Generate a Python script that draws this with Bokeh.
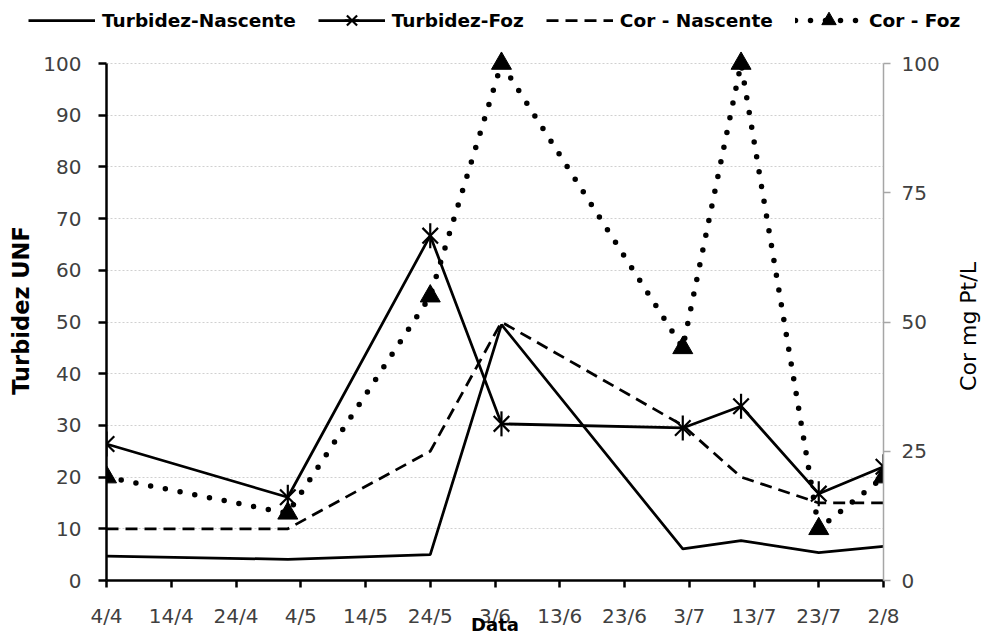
import math
import pandas as pd
from bokeh.plotting import figure
from bokeh.layouts import column, row
from bokeh.models import Range1d, LinearAxis, FixedTicker, Legend, LegendItem, Label
from bokeh.embed import file_html
from bokeh.resources import INLINE

# ---- data ----
dates = ["2011-04-04", "2011-05-02", "2011-05-24", "2011-06-04",
         "2011-07-02", "2011-07-11", "2011-07-23", "2011-08-02"]
turbidez_nascente = [4.7, 4.1, 5.0, 49.5, 6.1, 7.7, 5.4, 6.6]
turbidez_foz = [26.4, 16.1, 66.7, 30.3, 29.5, 33.7, 16.8, 22.0]
cor_nascente = [10, 10, 25, 50, 30, 20, 15, 15]
cor_foz = [20, 13, 55, 100, 45, 100, 10, 20]

series_names = ["Turbidez-Nascente", "Turbidez-Foz", "Cor - Nascente", "Cor - Foz"]
tick_dates = ["2011-04-04", "2011-04-14", "2011-04-24", "2011-05-04", "2011-05-14",
              "2011-05-24", "2011-06-03", "2011-06-13", "2011-06-23", "2011-07-03",
              "2011-07-13", "2011-07-23", "2011-08-02"]
tick_labels = ["4/4", "14/4", "24/4", "4/5", "14/5", "24/5", "3/6", "13/6",
               "23/6", "3/7", "13/7", "23/7", "2/8"]
left_ticks = [0, 10, 20, 30, 40, 50, 60, 70, 80, 90, 100]
right_ticks = [0, 25, 50, 75, 100]

base = pd.Timestamp(dates[0])
x = [(pd.Timestamp(d) - base).days for d in dates]
xt = [(pd.Timestamp(d) - base).days for d in tick_dates]

FONT = "DejaVu Sans"
TICK_COLOR = "#404040"
Y_TOP = 104.45  # head-room above 100 so the markers at 100 are not clipped

# styles per series
S_SOLID = dict(line_color="black", line_width=2.75)
S_DASH = dict(line_color="black", line_width=2.75, line_dash="12 7")
S_DOT = dict(line_color="black", line_width=5.5, line_dash="0 15", line_cap="round")
S_X = dict(marker="x", size=22, line_color="black", line_width=2.2)
S_BAR = dict(marker="dash", size=25, angle=math.pi / 2, line_color="black", line_width=2.2)
S_TRI = dict(marker="triangle", size=20, fill_color="black", line_color="black")

# ================= main chart =================
p = figure(width=954, height=597, output_backend="svg", toolbar_location=None,
           x_range=Range1d(xt[0], xt[-1]), y_range=Range1d(0, Y_TOP),
           min_border_left=106, min_border_right=71, min_border_top=0,
           min_border_bottom=57)
p.outline_line_color = None
p.background_fill_color = "white"
p.border_fill_color = "white"
p.extra_y_ranges = {"cor": Range1d(0, Y_TOP)}

# x axis
xa = p.xaxis[0]
xa.ticker = FixedTicker(ticks=xt)
xa.major_label_overrides = {v: l for v, l in zip(xt, tick_labels)}
xa.axis_line_width = 2.5
xa.axis_line_color = "black"
xa.major_tick_line_width = 2.5
xa.major_tick_line_color = "black"
xa.major_tick_in = 0
xa.major_tick_out = 7
xa.minor_tick_line_color = None
xa.major_label_text_font = FONT
xa.major_label_text_font_size = "20px"
xa.major_label_text_color = TICK_COLOR
xa.major_label_standoff = 16
xa.axis_label = "Data"
xa.axis_label_text_font = FONT
xa.axis_label_text_font_style = "bold"
xa.axis_label_text_font_size = "18px"
xa.axis_label_text_color = "black"
xa.axis_label_standoff = -17

# left axis
ya = p.yaxis[0]
ya.ticker = FixedTicker(ticks=left_ticks)
ya.bounds = (left_ticks[0], left_ticks[-1])
ya.axis_line_width = 2.5
ya.axis_line_color = "black"
ya.major_tick_line_width = 2.5
ya.major_tick_line_color = "black"
ya.major_tick_in = 0
ya.major_tick_out = 8
ya.minor_tick_line_color = None
ya.major_label_text_font = FONT
ya.major_label_text_font_size = "20px"
ya.major_label_text_color = TICK_COLOR
ya.major_label_standoff = 17
ya.axis_label = "Turbidez UNF"
ya.axis_label_text_font = FONT
ya.axis_label_text_font_style = "bold"
ya.axis_label_text_font_size = "22.5px"
ya.axis_label_text_color = "black"
ya.axis_label_standoff = 6

# right axis (its title is drawn in the narrow panel to the right)
ra = LinearAxis(y_range_name="cor", ticker=FixedTicker(ticks=right_ticks))
ra.bounds = (right_ticks[0], right_ticks[-1])
ra.axis_line_width = 1.5
ra.axis_line_color = "#a6a6a6"
ra.major_tick_line_width = 1.5
ra.major_tick_line_color = "#a6a6a6"
ra.major_tick_in = 0
ra.major_tick_out = 7
ra.minor_tick_line_color = None
ra.major_label_text_font = FONT
ra.major_label_text_font_size = "20px"
ra.major_label_text_color = TICK_COLOR
ra.major_label_standoff = 11
p.add_layout(ra, "right")

# grid
p.xgrid.visible = False
p.ygrid.ticker = FixedTicker(ticks=left_ticks)
p.ygrid.grid_line_color = "#d0d0d0"
p.ygrid.grid_line_width = 1
p.ygrid.grid_line_dash = "2 2"

# series
p.line(x, turbidez_nascente, **S_SOLID)
p.line(x, turbidez_foz, **S_SOLID)
p.scatter(x, turbidez_foz, **S_X)
p.scatter(x, turbidez_foz, **S_BAR)
p.line(x, cor_nascente, y_range_name="cor", **S_DASH)
p.line(x, cor_foz, y_range_name="cor", **S_DOT)
p.scatter(x, cor_foz, y_range_name="cor", **S_TRI)

# ================= legend strip (top) =================
# same series, drawn in a strip whose ranges keep them out of view: only the legend shows
lg = figure(width=984, height=40, output_backend="svg", toolbar_location=None,
            x_axis_location=None, y_axis_location=None,
            x_range=Range1d(-2000, -1000), y_range=Range1d(-2000, -1000), min_border=0)
lg.outline_line_color = None
lg.xgrid.visible = False
lg.ygrid.visible = False
l1 = lg.line(x, turbidez_nascente, **S_SOLID)
l2 = lg.line(x, turbidez_foz, **S_SOLID)
l2x = lg.scatter(x, turbidez_foz, **S_X)
l2b = lg.scatter(x, turbidez_foz, **S_BAR)
l3 = lg.line(x, cor_nascente, **S_DASH)
l4 = lg.line(x, cor_foz, **S_DOT)
l4t = lg.scatter(x, cor_foz, **S_TRI)

legend = Legend(items=[
    LegendItem(label=series_names[0], renderers=[l1]),
    LegendItem(label=series_names[1], renderers=[l2, l2x, l2b]),
    LegendItem(label=series_names[2], renderers=[l3]),
    LegendItem(label=series_names[3], renderers=[l4, l4t]),
], orientation="horizontal", location=(28, 2))
legend.glyph_width = 67
legend.glyph_height = 36
legend.label_height = 22
legend.label_standoff = 7
legend.spacing = 22
legend.padding = 0
legend.margin = 0
legend.label_text_font = FONT
legend.label_text_font_style = "bold"
legend.label_text_font_size = "18.5px"
legend.label_text_color = "black"
legend.background_fill_alpha = 0
legend.border_line_color = None
lg.add_layout(legend)

# ================= right axis title strip =================
tf = figure(width=30, height=597, output_backend="svg", toolbar_location=None,
            x_axis_location=None, y_axis_location=None,
            x_range=Range1d(0, 1), y_range=Range1d(0, 1), min_border=0)
tf.outline_line_color = None
tf.xgrid.visible = False
tf.ygrid.visible = False
tf.add_layout(Label(x=14, y=254, x_units="screen", y_units="screen",
                    text="Cor mg Pt/L", angle=math.pi / 2,
                    text_align="center", text_baseline="middle",
                    text_font=FONT, text_font_size="22px", text_color="black"))

layout = column(lg, row(p, tf))
open("out.html", "w").write(file_html(layout, INLINE))
